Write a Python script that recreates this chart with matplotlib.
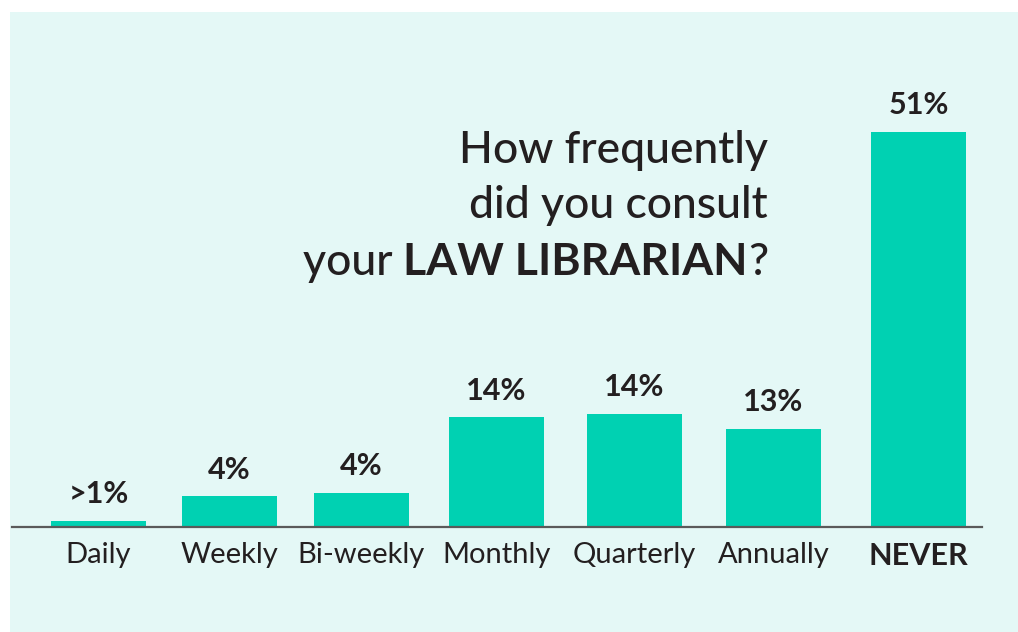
import matplotlib
matplotlib.use("Agg")
import matplotlib.pyplot as plt
from matplotlib.patches import Rectangle

categories = ["Daily", "Weekly", "Bi-weekly", "Monthly", "Quarterly", "Annually", "NEVER"]
values = [0.8, 4.0, 4.4, 14.2, 14.6, 12.7, 51.0]
value_labels = [">1%", "4%", "4%", "14%", "14%", "13%", "51%"]

# layout (pixel-like x units)
positions = [98.5, 229.5, 361.5, 496.5, 634.5, 773.5, 918.5]
bar_width = 95

W, H = 1018, 632
BG = "#e4f8f6"
BAR = "#00d1b2"
TXT = "#231f20"
FONT = "Lato"

fig = plt.figure(figsize=(W / 100, H / 100), dpi=100)
fig.patch.set_facecolor("white")
fig.patches.append(Rectangle((10 / W, 0), 1 - 10 / W, 1 - 12 / H,
                             transform=fig.transFigure, facecolor=BG,
                             edgecolor="none", zorder=-5))

base_px = 527
px_per_unit = (527 - 132) / 51.0
ax_left, ax_right, ax_top = 12, 982, 12
ax = fig.add_axes([ax_left / W, 1 - base_px / H, (ax_right - ax_left) / W, (base_px - ax_top) / H])
ax.set_zorder(2)
ax.set_facecolor("none")
ax.set_xlim(ax_left, ax_right)
ax.set_ylim(0, (base_px - ax_top) / px_per_unit)

ax.bar(positions, values, width=bar_width, color=BAR, zorder=2)
for s in ["top", "right", "left"]:
    ax.spines[s].set_visible(False)
ax.spines["bottom"].set_color("#5a5a5a")
ax.spines["bottom"].set_linewidth(1.6)
ax.set_yticks([])
ax.set_xticks(positions)
ax.set_xticklabels(categories)
ax.tick_params(axis="x", length=0, pad=11, labelsize=21, labelcolor=TXT)
for lbl in ax.get_xticklabels():
    lbl.set_fontfamily(FONT)
    if lbl.get_text() == "NEVER":
        lbl.set_fontweight("bold")
        lbl.set_fontsize(22)

for x, v, t in zip(positions, values, value_labels):
    ax.annotate(t, (x, v), xytext=(0, 9), textcoords="offset points",
                ha="center", va="bottom", fontsize=22, fontweight="bold",
                color=TXT, fontfamily=FONT)

# Title, right-aligned at x=768 px
tsize = 32
tw = "medium"
right_x = 768 / W
lines_y = [163, 218, 275]
fig.text(right_x, 1 - lines_y[0] / H, "How frequently", ha="right", va="baseline",
         fontsize=tsize, color=TXT, fontfamily=FONT, fontweight=tw)
fig.text(right_x, 1 - lines_y[1] / H, "did you consult", ha="right", va="baseline",
         fontsize=tsize, color=TXT, fontfamily=FONT, fontweight=tw)

renderer = fig.canvas.get_renderer()
y3 = 1 - lines_y[2] / H
t_q = fig.text(right_x, y3, "?", ha="right", va="baseline", fontsize=tsize,
               color=TXT, fontfamily=FONT, fontweight=tw)
bb = t_q.get_window_extent(renderer)
t_b = fig.text(bb.x0 / W, y3, "LAW LIBRARIAN", ha="right", va="baseline",
               fontsize=tsize, fontweight="bold", color=TXT, fontfamily=FONT)
bb2 = t_b.get_window_extent(renderer)
fig.text(bb2.x0 / W, y3, "your ", ha="right", va="baseline", fontsize=tsize,
         color=TXT, fontfamily=FONT, fontweight=tw)

fig.savefig("out.png", dpi=100, facecolor=fig.get_facecolor())
